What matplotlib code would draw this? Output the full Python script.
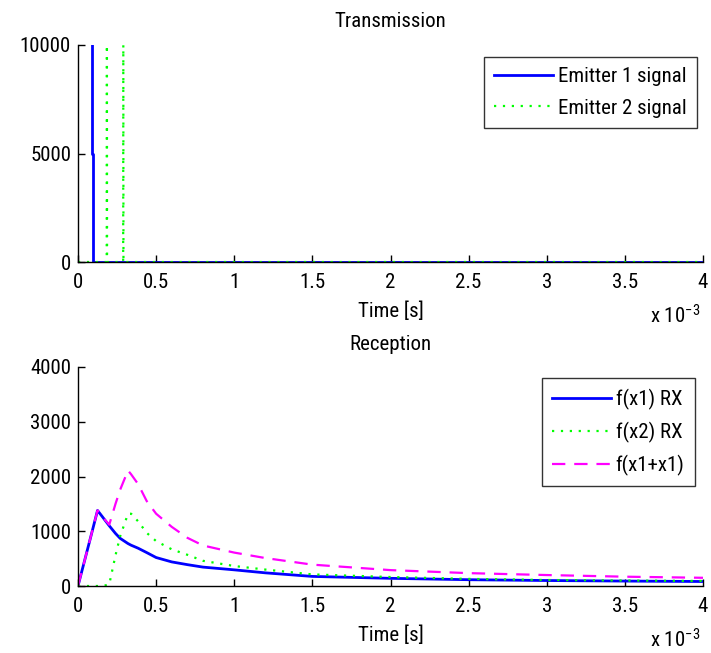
import matplotlib
matplotlib.use("Agg")
import matplotlib.pyplot as plt
from matplotlib import font_manager

names = {f.name for f in font_manager.fontManager.ttflist}
base, FS = 'Liberation Sans', 13.5
for cand in ['Liberation Sans Narrow', 'Roboto Condensed', 'DejaVu Sans Condensed']:
    if cand in names:
        base, FS = cand, 15
        break
plt.rcParams['font.family'] = [base, 'DejaVu Sans']
plt.rcParams['mathtext.default'] = 'regular'

# ---- data (time in units of 1e-3 s) ----
tx1_t = [0.088, 0.088, 0.098, 0.098, 4.0]
tx1_y = [10000, 5000, 5000, 0, 0]

tx2_t = [0.0, 0.184, 0.185, 0.186, 0.289, 0.290, 0.291, 4.0]
tx2_y = [0, 0, 10000, 0, 0, 10000, 0, 0]

rx_t = [0, 0.04, 0.08, 0.125, 0.16, 0.2, 0.24, 0.27, 0.32, 0.34, 0.385, 0.44, 0.5,
        0.6, 0.7, 0.8, 1.0, 1.2, 1.5, 2.0, 2.5, 3.0, 3.5, 4.0]
rx1 = [0, 440, 880, 1380, 1250, 1100, 960, 870, 775, 745, 690, 610, 520,
       440, 390, 345, 295, 240, 175, 140, 115, 100, 90, 82]
rx2 = [0, 0, 0, 0, 0, 30, 560, 910, 1320, 1320, 1180, 970, 820,
       670, 570, 460, 365, 300, 212, 164, 130, 110, 100, 92]
rx12 = [0, 440, 880, 1380, 1250, 1120, 1500, 1760, 2110, 2040, 1860, 1550, 1320,
        1080, 880, 740, 610, 510, 390, 290, 235, 200, 170, 150]

W, H = 711, 653
fig = plt.figure(figsize=(W / 100, H / 100), dpi=100)

def px_axes(l, t, r, b):
    return fig.add_axes([l / W, 1 - b / H, (r - l) / W, (b - t) / H])

ax1 = px_axes(78, 45, 703, 262)
ax2 = px_axes(78, 367, 703, 586)

blue = '#0000ff'
green = '#00ff00'
mag = '#ff00ff'

ax1.plot(tx1_t, tx1_y, color=blue, lw=2.0, label='Emitter 1 signal')
ax1.plot(tx2_t, tx2_y, color=green, lw=1.6, linestyle=(0, (1, 3)), label='Emitter 2 signal')
ax1.set_xlim(0, 4)
ax1.set_ylim(0, 10000)
ax1.set_yticks([0, 5000, 10000])
ax1.set_title('Transmission', fontsize=FS, pad=13)

ax2.plot(rx_t, rx1, color=blue, lw=2.0, label='f(x1) RX')
ax2.plot(rx_t, rx2, color=green, lw=1.6, linestyle=(0, (1, 3)), label='f(x2) RX')
ax2.plot(rx_t, rx12, color=mag, lw=1.6, linestyle=(0, (6, 4)), label='f(x1+x1)')
ax2.set_xlim(0, 4)
ax2.set_ylim(0, 4000)
ax2.set_yticks([0, 1000, 2000, 3000, 4000])
ax2.set_title('Reception', fontsize=FS, pad=12)

legend_anchor = {ax1: (697, 57), ax2: (695, 378)}
for ax in (ax1, ax2):
    ax.set_xticks([0, 0.5, 1, 1.5, 2, 2.5, 3, 3.5, 4])
    ax.set_xticklabels(['0', '0.5', '1', '1.5', '2', '2.5', '3', '3.5', '4'])
    ax.spines['top'].set_visible(False)
    ax.spines['right'].set_visible(False)
    ax.spines['left'].set_linewidth(1.0)
    ax.spines['bottom'].set_linewidth(1.0)
    ax.tick_params(direction='in', length=5, width=1, labelsize=FS)
    ax.tick_params(axis='x', pad=8)
    ax.tick_params(axis='y', pad=5)
    ax.set_xlabel('Time [s]', fontsize=FS, labelpad=6.5)
    ax.text((700 - 78) / 625, -62 / 219, r'x 10$^{-3}$', transform=ax.transAxes,
            ha='right', va='baseline', fontsize=FS)
    ax_x, ax_y = legend_anchor[ax]
    leg = ax.legend(loc='upper right', bbox_to_anchor=(ax_x / W, 1 - ax_y / H),
                    bbox_transform=fig.transFigure, fontsize=FS, frameon=True,
                    fancybox=False, edgecolor='black', handlelength=2.8,
                    handletextpad=0.25, borderpad=0.5, labelspacing=0.58,
                    borderaxespad=0)
    leg.get_frame().set_linewidth(1.0)

fig.savefig('out.png', dpi=100)
